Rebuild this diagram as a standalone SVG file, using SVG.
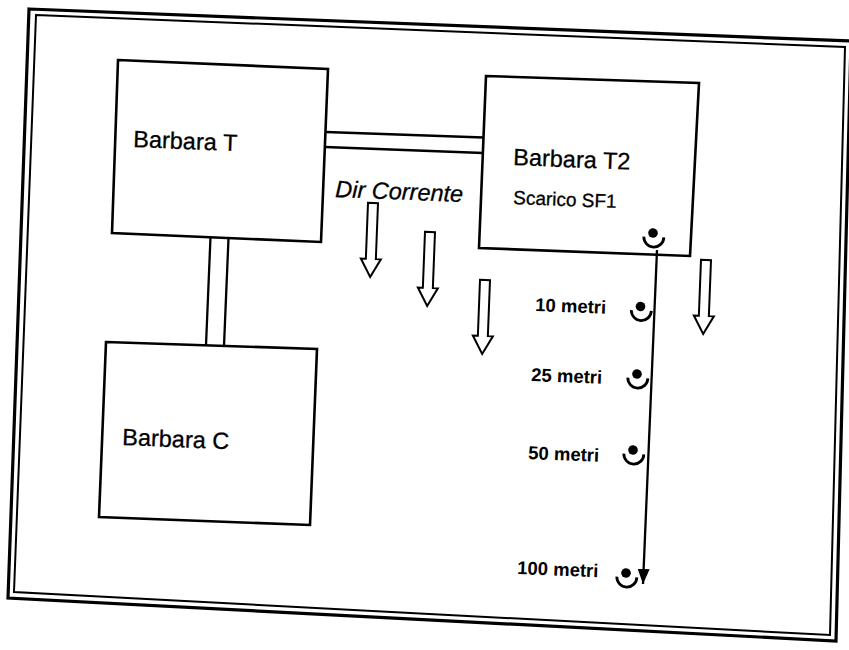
<svg xmlns="http://www.w3.org/2000/svg" width="849" height="650" viewBox="0 0 849 650">
<style>
  .box { fill: none; stroke: #000; stroke-width: 2.6; stroke-linejoin: miter; }
  .ln { stroke: #000; stroke-width: 2.3; fill: none; }
  .lbl { font-family: "Liberation Sans", Arial, sans-serif; fill: #000; stroke: #000; stroke-width: 0.3; }
  .big { font-size: 23.5px; }
  .sub { font-size: 19px; }
  .dist { font-size: 18.5px; font-weight: bold; stroke-width: 0; }
  .harrow { fill: #fff; stroke: #000; stroke-width: 2; stroke-linejoin: miter; }
</style>
<defs>
  <marker id="tip" markerUnits="userSpaceOnUse" markerWidth="16" markerHeight="12" refX="15" refY="6" orient="auto">
    <path d="M0,0 L15,6 L0,12 z" fill="#000"/>
  </marker>
  <path id="harrow-shape" d="M-5,0 H5 V56 H10 L0,74 L-10,56 H-5 Z"/>
  <g id="sensor-shape">
    <circle cx="0" cy="0" r="4.8" fill="#000"/>
    <path d="M -9 4 A 10 10 0 0 0 11 4" fill="none" stroke="#000" stroke-width="2.8"/>
  </g>
</defs>
<rect width="849" height="650" fill="#fff"/>

<g id="frame">
  <polygon points="29,9 851,41 836,641 8,598" fill="none" stroke="#000" stroke-width="3.2"/>
  <polygon points="36,15 845,47 830,635 14,592" fill="none" stroke="#000" stroke-width="2"/>
</g>

<g id="connectors">
  <line class="ln" x1="325.5" y1="132" x2="483.5" y2="137.5"/>
  <line class="ln" x1="325" y1="147" x2="483" y2="153"/>
  <line class="ln" x1="210.5" y1="237" x2="206" y2="345"/>
  <line class="ln" x1="228.5" y1="238" x2="224" y2="346"/>
  <line class="ln" x1="657" y1="250" x2="643" y2="584" stroke-width="2.6" marker-end="url(#tip)"/>
</g>

<g id="node-barbara-t">
  <polygon class="box" points="118,60 328,69 321,242 112,233"/>
  <text class="lbl big" x="133" y="147" transform="rotate(2.2 133 147)">Barbara T</text>
</g>

<g id="node-barbara-t2">
  <polygon class="box" points="486,76 699,83 690,256 479,248"/>
  <text class="lbl big" x="513" y="165" transform="rotate(2.2 513 165)">Barbara T2</text>
  <text class="lbl sub" x="513" y="204" transform="rotate(2.2 513 204)">Scarico SF1</text>
</g>

<g id="node-barbara-c">
  <polygon class="box" points="106,342 317,349 310,525 99,517"/>
  <text class="lbl big" x="122" y="445" transform="rotate(2.2 122 445)">Barbara C</text>
</g>

<g id="current-direction">
  <text class="lbl big" x="335" y="197" font-style="italic" transform="rotate(2.2 335 197)">Dir Corrente</text>
  <use href="#harrow-shape" class="harrow" transform="translate(373,203) rotate(2.2)"/>
  <use href="#harrow-shape" class="harrow" transform="translate(430,232) rotate(2.2)"/>
  <use href="#harrow-shape" class="harrow" transform="translate(485,280) rotate(2.2)"/>
  <use href="#harrow-shape" class="harrow" transform="translate(706,260) rotate(2.2)"/>
</g>

<g id="sensors">
  <use href="#sensor-shape" transform="translate(653,233) rotate(2.2)"/>
  <use href="#sensor-shape" transform="translate(640.5,306.5) rotate(2.2)"/>
  <use href="#sensor-shape" transform="translate(637,374) rotate(2.2)"/>
  <use href="#sensor-shape" transform="translate(633,450) rotate(2.2)"/>
  <use href="#sensor-shape" transform="translate(626,573) rotate(2.2)"/>
</g>

<g id="distance-labels">
  <text class="lbl dist" x="535" y="311" transform="rotate(2.2 535 311)">10 metri</text>
  <text class="lbl dist" x="531" y="381" transform="rotate(2.2 531 381)">25 metri</text>
  <text class="lbl dist" x="528" y="459" transform="rotate(2.2 528 459)">50 metri</text>
  <text class="lbl dist" x="517" y="574" transform="rotate(2.2 517 574)">100 metri</text>
</g>
</svg>
